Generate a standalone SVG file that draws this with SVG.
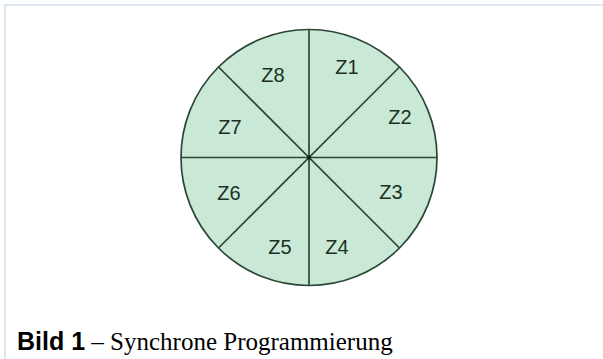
<svg xmlns="http://www.w3.org/2000/svg" width="603" height="359" viewBox="0 0 603 359">
<style>
.seg{stroke:#2b4637;stroke-width:1.7;fill:none}
.lbl{font-family:"Liberation Sans",Arial,sans-serif;font-size:20px;fill:#1c3024;text-anchor:middle}
</style>
<rect width="603" height="359" fill="#ffffff"/>
<path d="M5 359 V5 H603" fill="none" stroke="#dce6f1" stroke-width="2"/>
<g id="wheel">
<circle cx="309" cy="157.5" r="128" fill="#c9e9d6" stroke="#2b4637" stroke-width="1.7"/>
</g>
<g id="connectors">
<line class="seg" x1="309" y1="29.5" x2="309" y2="285.5"/>
<line class="seg" x1="181" y1="157.5" x2="437" y2="157.5"/>
<line class="seg" x1="218.5" y1="67" x2="399.5" y2="248"/>
<line class="seg" x1="399.5" y1="67" x2="218.5" y2="248"/>
<circle cx="309" cy="157.5" r="2" fill="#0f1f16"/>
</g>
<g id="z1"><text class="lbl" x="347" y="74">Z1</text></g>
<g id="z2"><text class="lbl" x="400" y="124">Z2</text></g>
<g id="z3"><text class="lbl" x="391" y="199">Z3</text></g>
<g id="z4"><text class="lbl" x="337" y="254">Z4</text></g>
<g id="z5"><text class="lbl" x="280" y="254">Z5</text></g>
<g id="z6"><text class="lbl" x="229" y="200">Z6</text></g>
<g id="z7"><text class="lbl" x="230" y="134">Z7</text></g>
<g id="z8"><text class="lbl" x="273" y="82">Z8</text></g>
<g id="caption">
<text x="17" y="350" font-size="25" fill="#000"><tspan font-family="'Liberation Sans',Arial,sans-serif" font-weight="bold">Bild 1</tspan><tspan font-family="'Liberation Serif','Times New Roman',serif"> – Synchrone Programmierung</tspan></text>
</g>
</svg>
